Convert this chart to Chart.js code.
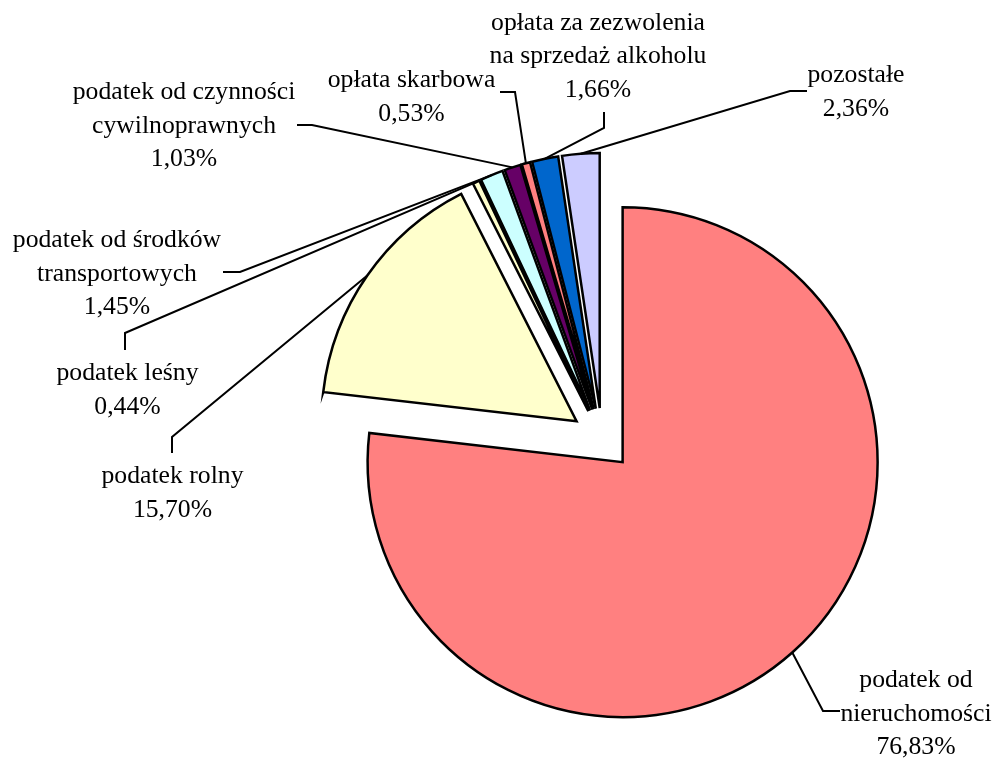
<!DOCTYPE html>
<html><head><meta charset="utf-8">
<script src="https://cdn.jsdelivr.net/npm/chart.js@4.4.0/dist/chart.umd.min.js"></script>
<style>html,body{margin:0;padding:0;background:#fff;} canvas{display:block;}</style>
</head><body>
<canvas id="c" width="994" height="759"></canvas>
<script>
const categories = ["podatek od nieruchomości","podatek rolny","podatek leśny","podatek od środków transportowych","podatek od czynności cywilnoprawnych","opłata skarbowa","opłata za zezwolenia na sprzedaż alkoholu","pozostałe"];
const values = [76.83, 15.70, 0.44, 1.45, 1.03, 0.53, 1.66, 2.36];
const labelLines = [["podatek od","nieruchomości"],["podatek rolny"],["podatek leśny"],["podatek od środków","transportowych"],["podatek od czynności","cywilnoprawnych"],["opłata skarbowa"],["opłata za zezwolenia","na sprzedaż alkoholu"],["pozostałe"]];
const colors = ["#FF8080","#FFFFCC","#FFFFCC","#CCFFFF","#660066","#FF8080","#0066CC","#CCCCFF"];

const EXPLODE = 31;
const LINE_H = 33.5;
const FONT = "25.7px 'Liberation Serif', 'Times New Roman', serif";
const labelLayout = [
  {x:916,   y:687,  elbow:[823,711], end:[840,711]},
  {x:172.5, y:483,  elbow:[172,437], end:[172,453]},
  {x:127.5, y:380,  elbow:[125,333], end:[125,350]},
  {x:117,   y:247,  elbow:[240,272], end:[223,272]},
  {x:184,   y:99,   elbow:[312,125], end:[297,125]},
  {x:411.5, y:87,   elbow:[515,92],  end:[500,92]},
  {x:598,   y:29.5, elbow:[604,128], end:[604,112]},
  {x:856,   y:82,   elbow:[790,91],  end:[807,91]}
];

const explodePlugin = {
  id: 'explode',
  afterDatasetsUpdate(chart) {
    const meta = chart.getDatasetMeta(0);
    const ca = chart.chartArea;
    const cx = (ca.left + ca.right) / 2, cy = (ca.top + ca.bottom) / 2;
    meta.data.forEach(el => {
      const mid = (el.startAngle + el.endAngle) / 2;
      el.x = cx + Math.cos(mid) * EXPLODE;
      el.y = cy + Math.sin(mid) * EXPLODE;
    });
  }
};

const labelPlugin = {
  id: 'pieLabels',
  afterDatasetsDraw(chart) {
    const ctx = chart.ctx;
    const meta = chart.getDatasetMeta(0);
    ctx.save();
    ctx.strokeStyle = '#000';
    ctx.lineWidth = 2;
    ctx.lineJoin = 'miter';
    meta.data.forEach((el, i) => {
      const mid = (el.startAngle + el.endAngle) / 2;
      const ax = el.x + Math.cos(mid) * el.outerRadius;
      const ay = el.y + Math.sin(mid) * el.outerRadius;
      const L = labelLayout[i];
      ctx.beginPath();
      ctx.moveTo(ax, ay);
      ctx.lineTo(L.elbow[0], L.elbow[1]);
      ctx.lineTo(L.end[0], L.end[1]);
      ctx.stroke();
      const lines = labelLines[i].concat([values[i].toFixed(2).replace('.', ',') + '%']);
      ctx.fillStyle = '#000';
      ctx.font = FONT;
      ctx.textAlign = 'center';
      ctx.textBaseline = 'alphabetic';
      lines.forEach((t, k) => ctx.fillText(t, L.x, L.y + k * LINE_H));
    });
    ctx.restore();
  }
};

new Chart(document.getElementById('c'), {
  type: 'pie',
  data: {
    labels: categories,
    datasets: [{
      data: values,
      backgroundColor: colors,
      borderColor: '#000',
      borderWidth: 2.5,
      borderJoinStyle: 'miter',
      radius: 255
    }]
  },
  options: {
    responsive: false,
    animation: false,
    events: [],
    layout: { padding: { left: 210, right: 0, top: 119, bottom: 0 } },
    plugins: { legend: { display: false }, tooltip: { enabled: false }, title: { display: false } }
  },
  plugins: [explodePlugin, labelPlugin]
});
</script>
</body></html>
